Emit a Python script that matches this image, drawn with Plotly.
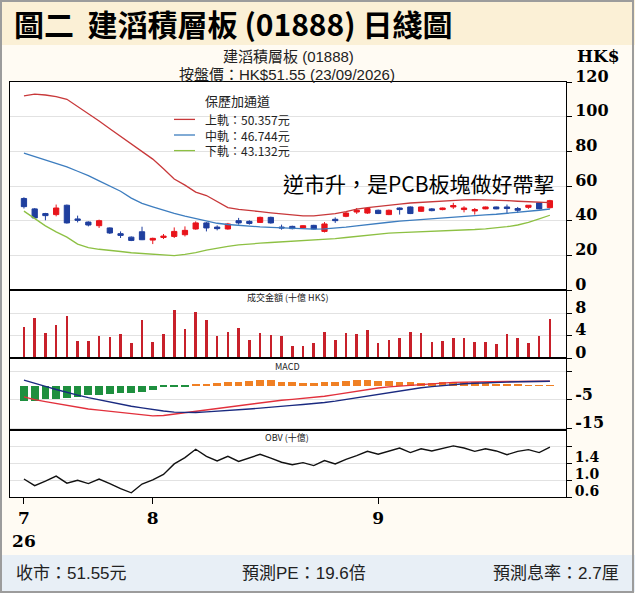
import plotly.graph_objects as go
from plotly.subplots import make_subplots

# ---------------- data ----------------
tick_pos = [0, 12, 33]
tick_text = ["7<br>26", "8", "9"]

opens = [52.8, 46.8, 44.1, 43.5, 48.9, 41.0, 39.2, 37.1, 35.8, 32.5,
         30.5, 33.6, 28.8, 30.3, 30.9, 31.9, 35.2, 38.7, 36.3, 35.2,
         40.0, 39.6, 39.0, 41.9, 36.3, 36.7, 35.8, 37.3, 33.8, 40.8,
         42.5, 45.0, 44.4, 46.0, 43.5, 47.3, 47.9, 45.4, 46.8, 46.4,
         47.9, 46.4, 45.6, 46.8, 47.9, 47.9, 47.0, 47.7, 50.3, 47.5]
highs = [53.5, 47.3, 44.5, 49.3, 49.3, 42.9, 39.6, 40.6, 36.1, 33.8,
         30.9, 36.5, 30.2, 32.3, 36.1, 36.7, 39.6, 39.2, 37.3, 38.7,
         41.6, 40.2, 42.3, 42.3, 37.7, 37.1, 37.4, 37.6, 39.2, 41.9,
         45.0, 47.3, 47.5, 46.4, 46.4, 47.6, 48.2, 48.2, 47.3, 47.5,
         50.3, 48.3, 47.3, 48.1, 48.1, 49.3, 47.9, 48.9, 50.5, 52.0]
lows = [47.0, 41.0, 40.2, 42.5, 38.3, 39.0, 36.7, 35.8, 32.3, 30.0,
        28.2, 28.8, 26.5, 29.4, 30.0, 30.9, 34.8, 33.8, 34.4, 34.8,
        37.7, 37.7, 38.7, 38.3, 34.8, 35.0, 35.5, 35.0, 33.2, 38.7,
        42.0, 43.9, 43.9, 43.8, 43.2, 43.5, 43.8, 45.0, 45.4, 46.0,
        46.8, 44.8, 43.5, 46.6, 46.6, 44.4, 44.4, 46.8, 46.6, 47.0]
closes = [48.1, 41.6, 42.9, 47.3, 38.7, 40.2, 37.5, 40.0, 32.9, 31.5,
          28.6, 29.0, 29.8, 31.1, 33.8, 34.4, 38.7, 35.8, 35.4, 38.1,
          38.7, 38.4, 41.9, 38.7, 35.8, 35.4, 37.1, 35.2, 38.1, 40.0,
          44.4, 46.0, 47.0, 44.1, 46.0, 46.4, 44.1, 47.9, 45.8, 47.3,
          48.7, 47.3, 46.4, 47.9, 46.8, 47.0, 46.0, 48.9, 46.8, 51.55]

upper = [112.0, 113.0, 112.5, 111.5, 110.0, 106.0, 102.0, 97.5, 93.0, 88.5,
         84.0, 80.0, 75.5, 70.0, 64.0, 60.5, 56.5, 54.5, 51.0, 47.5,
         46.5, 46.0, 45.2, 44.5, 43.8, 43.2, 42.8, 42.8, 43.2, 44.0,
         45.2, 46.6, 47.5, 48.3, 49.0, 49.6, 50.2, 50.6, 51.0, 51.4,
         51.7, 52.0, 52.1, 52.0, 51.8, 51.6, 51.2, 50.8, 50.5, 50.357]
middle = [79.0, 77.0, 75.0, 73.0, 71.0, 68.5, 66.0, 63.0, 60.0, 57.0,
          53.0, 50.0, 48.0, 46.0, 44.2, 42.6, 41.2, 39.8, 38.5, 37.8,
          37.2, 36.8, 36.4, 36.1, 35.8, 35.4, 35.2, 35.1, 35.3, 35.7,
          36.3, 37.0, 37.8, 38.5, 39.1, 39.7, 40.2, 40.7, 41.2, 41.7,
          42.1, 42.5, 42.9, 43.3, 43.7, 44.2, 44.7, 45.3, 46.0, 46.744]
lower = [45.5, 41.0, 37.0, 33.5, 30.5, 26.5, 24.5, 23.5, 23.0, 22.2,
         21.5, 21.0, 20.5, 20.0, 19.8, 20.5, 21.5, 23.0, 24.3, 25.2,
         26.0, 26.7, 27.0, 27.4, 27.7, 28.0, 28.3, 28.6, 29.0, 29.6,
         30.3, 31.0, 31.7, 32.3, 32.8, 33.1, 33.3, 33.6, 33.8, 34.0,
         34.2, 34.5, 34.9, 35.3, 35.8, 36.5, 37.5, 39.0, 41.0, 43.132]

turnover = [5.5, 7.1, 4.4, 5.9, 7.4, 3.1, 3.1, 4.0, 3.7, 4.3,
            2.6, 6.8, 2.9, 4.3, 8.6, 5.2, 8.1, 6.8, 3.9, 4.6,
            5.3, 3.2, 4.5, 4.1, 4.0, 2.1, 2.1, 2.7, 4.7, 3.2,
            4.4, 4.3, 4.9, 2.7, 3.2, 3.5, 4.6, 4.4, 2.9, 3.1,
            3.5, 3.5, 2.9, 2.9, 2.5, 4.3, 3.5, 2.7, 4.0, 6.9]

macd_hist = [-5.3, -5.3, -4.8, -4.6, -4.2, -3.8, -3.4, -3.2, -2.9, -2.5,
             -2.4, -2.1, -1.4, -0.6, -0.3, -0.1, 0.6, 0.7, 0.9, 1.4,
             1.5, 1.6, 1.9, 1.9, 1.5, 1.4, 1.1, 1.1, 1.2, 1.5,
             1.6, 1.9, 1.9, 1.8, 1.8, 1.5, 1.3, 1.1, 1.1, 1.3,
             1.4, 1.3, 1.2, 0.9, 0.7, 0.5, 0.4, 0.2, 0.1, 0.1]
dif = [-3.9, -4.9, -5.6, -6.3, -6.9, -7.6, -8.2, -8.6, -9.0, -9.5,
       -9.9, -10.3, -10.6, -10.5, -10.0, -9.5, -9.0, -8.5, -8.0, -7.5,
       -7.0, -6.6, -6.0, -5.5, -5.1, -4.8, -4.5, -4.2, -3.7, -3.1,
       -2.5, -1.9, -1.3, -0.8, -0.4, -0.1, 0.2, 0.5, 0.8, 1.0,
       1.2, 1.3, 1.4, 1.4, 1.4, 1.5, 1.5, 1.5, 1.5, 1.6]
dea = [2.0, 1.0, -0.2, -1.3, -2.4, -3.3, -4.2, -5.0, -5.8, -6.5,
       -7.2, -7.8, -8.4, -8.9, -9.3, -9.4, -9.4, -9.2, -9.0, -8.8,
       -8.5, -8.2, -7.9, -7.5, -7.2, -6.9, -6.6, -6.3, -5.9, -5.4,
       -4.8, -4.2, -3.5, -2.9, -2.3, -1.7, -1.2, -0.7, -0.3, 0.1,
       0.4, 0.7, 0.9, 1.1, 1.2, 1.3, 1.4, 1.4, 1.5, 1.6]

obv = [1.03, 0.87, 0.98, 1.10, 0.93, 1.00, 0.92, 1.03, 0.92, 0.80,
       0.70, 0.91, 1.01, 1.14, 1.39, 1.54, 1.74, 1.57, 1.46, 1.57,
       1.45, 1.53, 1.62, 1.53, 1.43, 1.37, 1.42, 1.35, 1.47, 1.39,
       1.50, 1.59, 1.69, 1.62, 1.69, 1.77, 1.66, 1.75, 1.70, 1.76,
       1.82, 1.77, 1.69, 1.75, 1.70, 1.61, 1.69, 1.73, 1.66, 1.79]

band_names = ["上軌", "中軌", "下軌"]
legend_title = "保歷加通道"

x_idx = list(range(len(closes)))

# ---------------- styles ----------------
RED = "#E8141B"
BLUE = "#1F3F9E"
BAND_COLORS = ["#C8383A", "#3D7DBF", "#8DC043"]
CJK = "Noto Sans CJK TC"
SANS = "Liberation Sans, Noto Sans CJK TC"
SERIF = "DejaVu Serif"

# pixel -> paper helpers (plot area 10..566 x 82..497)
L, R, T, B = 10, 566, 82, 497
def px(x):
    return (x - L) / (R - L)
def py(y):
    return (B - y) / (B - T)

fig = make_subplots(rows=4, cols=1, shared_xaxes=True, vertical_spacing=0)

# Bollinger bands
for vals, col, nm in zip([upper, middle, lower], BAND_COLORS, band_names):
    fig.add_trace(go.Scatter(x=x_idx, y=vals, mode="lines", line=dict(color=col, width=1.3),
                             name=nm, showlegend=False), row=1, col=1)
# Candles
fig.add_trace(go.Candlestick(x=x_idx, open=opens, high=highs, low=lows, close=closes,
                             increasing=dict(line=dict(color=RED, width=1), fillcolor=RED),
                             decreasing=dict(line=dict(color=BLUE, width=1), fillcolor=BLUE),
                             whiskerwidth=0, showlegend=False), row=1, col=1)
# Turnover
fig.add_trace(go.Bar(x=x_idx, y=turnover, width=0.24, marker=dict(color="#C8202A", line=dict(width=0)),
                     showlegend=False), row=2, col=1)
# MACD
hist_colors = ["#1E8F3E" if v < 0 else "#F08024" for v in macd_hist]
fig.add_trace(go.Bar(x=x_idx, y=macd_hist, width=0.72, marker=dict(color=hist_colors, line=dict(width=0)),
                     showlegend=False), row=3, col=1)
fig.add_trace(go.Scatter(x=x_idx, y=dif, mode="lines", line=dict(color="#E2303C", width=1.4),
                         showlegend=False), row=3, col=1)
fig.add_trace(go.Scatter(x=x_idx, y=dea, mode="lines", line=dict(color="#1A2A80", width=1.4),
                         showlegend=False), row=3, col=1)
# OBV
fig.add_trace(go.Scatter(x=x_idx, y=obv, mode="lines", line=dict(color="#111111", width=1.4),
                         showlegend=False), row=4, col=1)

# ---------------- axes ----------------
domains = [[py(290), 1.0], [py(358), py(290)], [py(430), py(358)], [0.0, py(430)]]
yranges = [[0, 120], [0, 12.1], [-15.6, 9.8], [0.6, 2.2]]
ytickv = [[0, 20, 40, 60, 80, 100, 120], [0, 4, 8], [5, -5, -15], [0.6, 1.0, 1.4, 1.8]]
ytickt = [["0", "20", "40", "60", "80", "100", "120"], ["0", "4", "8"],
          ["", "-5", "-15"], ["0.6", "1.0", "1.4", ""]]
yfont = [16, 16, 16, 14]
for i in range(4):
    yname = "yaxis" if i == 0 else "yaxis%d" % (i + 1)
    xname = "xaxis" if i == 0 else "xaxis%d" % (i + 1)
    fig.layout[yname].update(
        domain=domains[i], range=yranges[i], side="right", showline=True, linecolor="black",
        linewidth=1, mirror=True, ticks="outside", ticklen=5, tickcolor="black",
        tickvals=ytickv[i], ticktext=ytickt[i], ticklabelshift=-6,
        tickfont=dict(family=SERIF, size=yfont[i], color="black", weight="bold"),
        showgrid=True, gridcolor="#E2E2E2", gridwidth=1, zeroline=False, fixedrange=True)
    fig.layout[xname].update(
        range=[-1.3, 50.5], showline=True, linecolor="black", linewidth=1, mirror=True,
        showgrid=False, zeroline=False, tickvals=tick_pos, ticktext=tick_text,
        ticks="outside" if i == 3 else "", ticklen=6, tickcolor="black",
        showticklabels=(i == 3),
        tickfont=dict(family=SERIF, size=17, color="black", weight="bold"),
        rangeslider=dict(visible=False))

fig.update_layout(
    width=635, height=600, autosize=False,
    margin=dict(l=L, r=635 - R, t=T, b=600 - B),
    paper_bgcolor="#FFFBF3", plot_bgcolor="white",
    bargap=0, barmode="overlay",
    showlegend=False,
)

# ---------------- background shapes + legend swatches ----------------
shapes = [
    dict(type="rect", xref="paper", yref="paper", x0=px(0), x1=px(635), y0=py(0), y1=py(45),
         fillcolor="#FBF0D6", line=dict(width=0), layer="below"),
    dict(type="rect", xref="paper", yref="paper", x0=px(0), x1=px(635), y0=py(555), y1=py(592),
         fillcolor="#E8EFF6", line=dict(width=0), layer="below"),
    dict(type="rect", xref="paper", yref="paper", x0=px(0), x1=px(635), y0=py(593), y1=py(600),
         fillcolor="white", line=dict(width=0), layer="below"),
    dict(type="rect", xref="paper", yref="paper", x0=px(1), x1=px(633), y0=py(1), y1=py(592),
         fillcolor="rgba(0,0,0,0)", line=dict(color="#9C9C9C", width=2), layer="above"),
]
LEG_SIZE = 12
leg_center = 135
leg_step = LEG_SIZE * 1.3
legend_rows = [leg_center - leg_step, leg_center, leg_center + leg_step]
for yy, col in zip(legend_rows, BAND_COLORS):
    shapes.append(dict(type="line", xref="paper", yref="paper", x0=px(174), x1=px(195),
                       y0=py(yy), y1=py(yy), line=dict(color=col, width=1.3)))
fig.update_layout(shapes=shapes)

# ---------------- text ----------------
legend_lines = "<br>".join("%s：%.3f元" % (nm, vals[-1])
                           for nm, vals in zip(band_names, [upper, middle, lower]))
ann = [
    dict(text="圖二  建滔積層板 (01888) 日綫圖", x=px(12), y=py(23), xanchor="left", yanchor="middle",
         font=dict(family=CJK, size=30, color="black", weight="bold")),
    dict(text="建滔積層板 (01888)", x=px(288), y=py(56), xanchor="center", yanchor="middle",
         font=dict(family=SANS, size=15, color="#222")),
    dict(text="按盤價：HK$51.55 (23/09/2026)", x=px(287), y=py(74), xanchor="center", yanchor="middle",
         font=dict(family=SANS, size=15, color="#222")),
    dict(text="HK$", x=px(598), y=py(56), xanchor="center", yanchor="middle",
         font=dict(family=SERIF, size=17, color="black", weight="bold")),
    dict(text="逆市升，是PCB板塊做好帶挈", x=px(557), y=py(183), xanchor="right", yanchor="middle",
         font=dict(family=CJK, size=21, color="black")),
    dict(text="成交金額 (十億 HK$)", x=px(287), y=py(297), xanchor="center", yanchor="middle",
         font=dict(family=CJK, size=9, color="#222")),
    dict(text="MACD", x=px(287), y=py(366), xanchor="center", yanchor="middle",
         font=dict(family=CJK, size=9, color="#222")),
    dict(text="OBV (十億)", x=px(287), y=py(437), xanchor="center", yanchor="middle",
         font=dict(family=CJK, size=9, color="#222")),
    dict(text="收市：51.55元", x=px(14), y=py(573), xanchor="left", yanchor="middle",
         font=dict(family=SANS, size=17, color="#222")),
    dict(text="預測PE：19.6倍", x=px(304), y=py(573), xanchor="center", yanchor="middle",
         font=dict(family=SANS, size=17, color="#222")),
    dict(text="預測息率：2.7厘", x=px(621), y=py(573), xanchor="right", yanchor="middle",
         font=dict(family=SANS, size=17, color="#222")),
    dict(text=legend_title, x=px(203), y=py(101), xanchor="left", yanchor="middle",
         font=dict(family=CJK, size=LEG_SIZE + 1, color="#222")),
    dict(text=legend_lines, x=px(203), y=py(leg_center), xanchor="left", yanchor="middle",
         align="left", font=dict(family=CJK, size=LEG_SIZE, color="#222")),
]
for a in ann:
    a.update(xref="paper", yref="paper", showarrow=False)
fig.update_layout(annotations=ann)

fig.write_html("out.html", config={"displayModeBar": False},
               post_script="document.body.style.margin='0';")
